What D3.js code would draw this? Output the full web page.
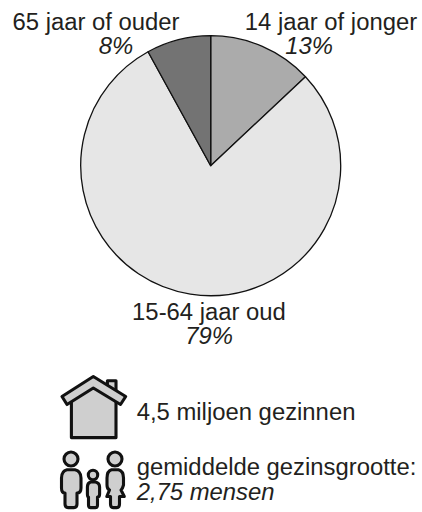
<!DOCTYPE html>
<html>
<head>
<meta charset="utf-8">
<script src="https://cdn.jsdelivr.net/npm/d3@7"></script>
<style>
  html, body { margin: 0; padding: 0; background: #fff; }
  svg { display: block; }
  text { font-family: "Liberation Sans", Arial, sans-serif; font-size: 23.85px; fill: #231f20; }
  .pct { font-style: italic; }
  .icon { fill: #cfcfcf; stroke: #111; stroke-width: 3.1; stroke-linejoin: round; }
</style>
</head>
<body>
<div id="chart"></div>
<script>
const categories = ['14 jaar of jonger', '15-64 jaar oud', '65 jaar of ouder'];
const shares = [13, 79, 8];
const sliceColors = ['#ababab', '#e6e6e6', '#737373'];

const labelPos = [[331, 30], [209, 320], [96, 30]];

const width = 422, height = 512;
const cx = 210.7, cy = 165.7, radius = 130;

const svg = d3.select('#chart').append('svg')
    .attr('width', width)
    .attr('height', height);

const pie = d3.pie().sort(null).value(d => d);
const arc = d3.arc().innerRadius(0).outerRadius(radius);

svg.append('g')
    .attr('transform', `translate(${cx},${cy})`)
    .selectAll('path')
    .data(pie(shares))
    .enter()
    .append('path')
    .attr('d', arc)
    .attr('fill', (d, i) => sliceColors[i])
    .attr('stroke', '#111')
    .attr('stroke-width', 1.3)
    .attr('stroke-linejoin', 'round');

categories.forEach((c, i) => {
    svg.append('text')
        .attr('x', labelPos[i][0])
        .attr('y', labelPos[i][1])
        .attr('text-anchor', 'middle')
        .text(c);
    svg.append('text')
        .attr('class', 'pct')
        .attr('x', labelPos[i][0] + (i === 0 ? -22 : i === 2 ? 20 : 0))
        .attr('y', labelPos[i][1] + 24)
        .attr('text-anchor', 'middle')
        .text(shares[i] + '%');
});

// house icon
const house = svg.append('g').attr('class', 'icon');
house.append('path').attr('d', 'M107.4 392V380.7H116V400Z');
house.append('path').attr('d', 'M71.4 437.6V397L93.3 382L116 397V437.6Z');
house.append('path').attr('d', 'M62 396.5L93.3 376.5L125.7 396.5L120.5 404.5L93.3 388L67 404.5Z');

// family icon
const family = svg.append('g').attr('class', 'icon');
family.append('circle').attr('cx', 71).attr('cy', 459).attr('r', 7);
family.append('path').attr('d', 'M67 469.7H75Q81 471 81 478V488Q81 493 77 493V504Q77 507.6 74 507.6H68Q65 507.6 65 504V493Q61.5 493 61.5 488V478Q61.5 471 67 469.7Z');
family.append('circle').attr('cx', 93).attr('cy', 475).attr('r', 4.7);
family.append('path').attr('d', 'M90.5 482H95.5Q99.6 483 99.6 487V494Q99.6 497 97.5 497V505Q97.5 507.6 95.5 507.6H90.5Q88.5 507.6 88.5 505V497Q87.4 497 87.4 494V487Q87.4 483 90.5 482Z');
family.append('circle').attr('cx', 115).attr('cy', 459).attr('r', 7);
family.append('path').attr('d', 'M111.5 469.7H118.5Q123.5 471 123.5 478V485Q122.5 489 121 490L124.3 496.5H119.5V504Q119.5 507.6 117 507.6H113Q110.5 507.6 110.5 504V496.5H106.8L109.5 490Q107 489 107 485V478Q107 471 111.5 469.7Z');

const caption = [
    { x: 136.7, y: 420, text: '4,5 miljoen gezinnen', cls: '' },
    { x: 136.7, y: 475, text: 'gemiddelde gezinsgrootte:', cls: '' },
    { x: 136.7, y: 500, text: '2,75 mensen', cls: 'pct' }
];
svg.selectAll('.caption')
    .data(caption)
    .enter()
    .append('text')
    .attr('class', d => d.cls)
    .attr('x', d => d.x)
    .attr('y', d => d.y)
    .text(d => d.text);
</script>
</body>
</html>
